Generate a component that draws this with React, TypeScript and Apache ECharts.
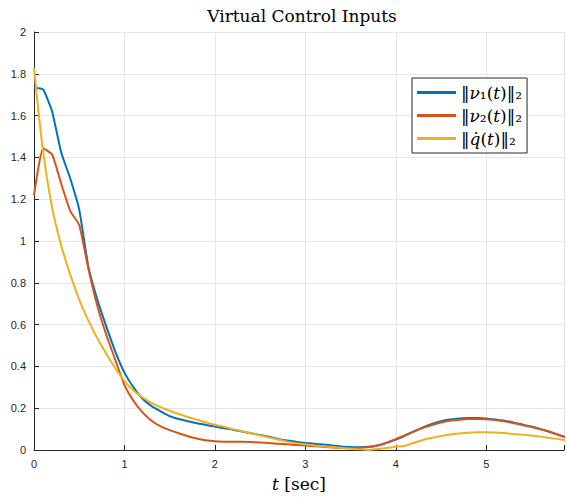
import React, { useEffect, useRef } from "react";
import * as echarts from "echarts";

const tValues = [
  0, 0.1, 0.2, 0.3, 0.4, 0.5, 0.6, 0.7, 0.8, 0.9,
  1.0, 1.1, 1.2, 1.3, 1.4, 1.5, 1.6, 1.7, 1.8, 1.9,
  2.0, 2.1, 2.2, 2.3, 2.4, 2.5, 2.6, 2.7, 2.8, 2.9,
  3.0, 3.1, 3.2, 3.3, 3.4, 3.5, 3.6, 3.7, 3.8, 3.9,
  4.0, 4.1, 4.2, 4.3, 4.4, 4.5, 4.6, 4.7, 4.8, 4.9,
  5.0, 5.1, 5.2, 5.3, 5.4, 5.5, 5.6, 5.7, 5.8, 5.9,
];

const nu1 = [
  1.733, 1.725, 1.62, 1.425, 1.3, 1.15, 0.88, 0.72, 0.59, 0.47,
  0.37, 0.3, 0.245, 0.21, 0.185, 0.162, 0.148, 0.138, 0.128, 0.12,
  0.112, 0.104, 0.097, 0.088, 0.08, 0.072, 0.063, 0.053, 0.045, 0.039,
  0.034, 0.03, 0.026, 0.021, 0.017, 0.014, 0.013, 0.015, 0.022, 0.034,
  0.05, 0.068, 0.088, 0.108, 0.125, 0.138, 0.146, 0.151, 0.153, 0.153,
  0.151, 0.146, 0.14, 0.132, 0.122, 0.112, 0.1, 0.087, 0.072, 0.058,
];

const nu2 = [
  1.22, 1.444, 1.414, 1.275, 1.144, 1.077, 0.87, 0.69, 0.55, 0.43,
  0.31, 0.235, 0.18, 0.14, 0.113, 0.095, 0.08, 0.066, 0.055, 0.047,
  0.042, 0.04, 0.039, 0.039, 0.038, 0.036, 0.033, 0.03, 0.027, 0.024,
  0.021, 0.018, 0.015, 0.012, 0.01, 0.009, 0.01, 0.014, 0.022, 0.035,
  0.052, 0.07, 0.089, 0.106, 0.12, 0.132, 0.14, 0.145, 0.148, 0.148,
  0.147, 0.143, 0.137, 0.129, 0.12, 0.11, 0.099, 0.087, 0.072, 0.058,
];

const qdot = [
  1.83, 1.43, 1.16, 0.98, 0.84, 0.72, 0.62, 0.535, 0.46, 0.39,
  0.33, 0.285, 0.252, 0.226, 0.205, 0.188, 0.172, 0.158, 0.145, 0.132,
  0.121, 0.111, 0.1, 0.09, 0.08, 0.07, 0.06, 0.05, 0.04, 0.032,
  0.027, 0.022, 0.018, 0.014, 0.01, 0.006, 0.003, 0.0, 0.005, 0.01,
  0.015, 0.02, 0.035, 0.048, 0.058, 0.067, 0.074, 0.079, 0.083, 0.085,
  0.085, 0.084, 0.081, 0.077, 0.073, 0.069, 0.064, 0.058, 0.052, 0.046,
];

const seriesNames = ["nu1", "nu2", "qdot"];
const legendRich: Record<string, string> = {
  nu1: "{n|‖}{i|ν}{n|₁(}{i|t}{n|)‖₂}",
  nu2: "{n|‖}{i|ν}{n|₂(}{i|t}{n|)‖₂}",
  qdot: "{n|‖}{i|q̇}{n|(}{i|t}{n|)‖₂}",
};
const colors = ["#0072BD", "#D95319", "#EDB120"];
const smoothing = [0.15, 0.15, 0.3];

const titleText = "Virtual Control Inputs";
const xTicks = [0, 1, 2, 3, 4, 5];

export default function App() {
  const ref = useRef<HTMLDivElement>(null);
  useEffect(() => {
    if (!ref.current) return;
    const chart = echarts.init(ref.current, undefined, { renderer: "svg" });
    const serif = "DejaVu Serif";
    const sans = "Liberation Sans";
    const dataSets = [nu1, nu2, qdot];
    chart.setOption({
      animation: false,
      backgroundColor: "#ffffff",
      grid: { left: 34, right: 0, top: 32, bottom: 43, containLabel: false },
      graphic: [
        {
          type: "text",
          x: 302,
          y: 16,
          style: {
            text: titleText,
            fontFamily: serif,
            fontSize: 17,
            fill: "#000",
            align: "center",
            verticalAlign: "middle",
          },
        },
      ],
      legend: {
        data: seriesNames,
        orient: "vertical",
        left: 412,
        top: 78,
        padding: [6, 5, 6, 5],
        itemGap: 6,
        itemWidth: 39,
        itemHeight: 3,
        icon: "rect",
        backgroundColor: "#ffffff",
        borderColor: "#262626",
        borderWidth: 1,
        borderRadius: 0,
        formatter: (name: string) => legendRich[name],
        textStyle: {
          rich: {
            n: { fontFamily: serif, fontSize: 17, color: "#000", lineHeight: 18 },
            i: { fontFamily: serif, fontStyle: "italic", fontSize: 17, color: "#000", lineHeight: 18 },
          },
        },
      },
      xAxis: {
        type: "value",
        min: 0,
        max: 5.86,
        interval: 1,
        name: "{i|t} [sec]",
        nameLocation: "middle",
        nameGap: 25,
        nameTextStyle: {
          fontFamily: serif,
          fontSize: 17,
          color: "#000",
          rich: {
            i: { fontFamily: serif, fontStyle: "italic", fontSize: 17, color: "#000" },
          },
        },
        axisLine: { show: true, lineStyle: { color: "#262626", width: 1 } },
        axisTick: { show: true, inside: true, length: 5, lineStyle: { color: "#262626" } },
        axisLabel: {
          color: "#262626",
          fontFamily: sans,
          fontSize: 11,
          margin: 8,
          formatter: (v: number) => (xTicks.includes(v) ? String(v) : ""),
        },
        splitLine: { show: true, lineStyle: { color: "#e6e6e6", width: 1 } },
      },
      yAxis: {
        type: "value",
        min: 0,
        max: 2,
        interval: 0.2,
        axisLine: { show: true, lineStyle: { color: "#262626", width: 1 } },
        axisTick: { show: true, inside: true, length: 5, lineStyle: { color: "#262626" } },
        axisLabel: { color: "#262626", fontFamily: sans, fontSize: 11, margin: 8 },
        splitLine: { show: true, lineStyle: { color: "#e6e6e6", width: 1 } },
      },
      series: seriesNames.map((name, k) => ({
        name,
        type: "line",
        showSymbol: false,
        symbol: "none",
        smooth: smoothing[k],
        clip: true,
        color: colors[k],
        lineStyle: { color: colors[k], width: 2 },
        data: tValues.map((t, i) => [t, dataSets[k][i]]),
      })),
    });
    return () => chart.dispose();
  }, []);
  return <div ref={ref} style={{ width: 567, height: 497, position: "absolute", left: 0, top: 0 }} />;
}
